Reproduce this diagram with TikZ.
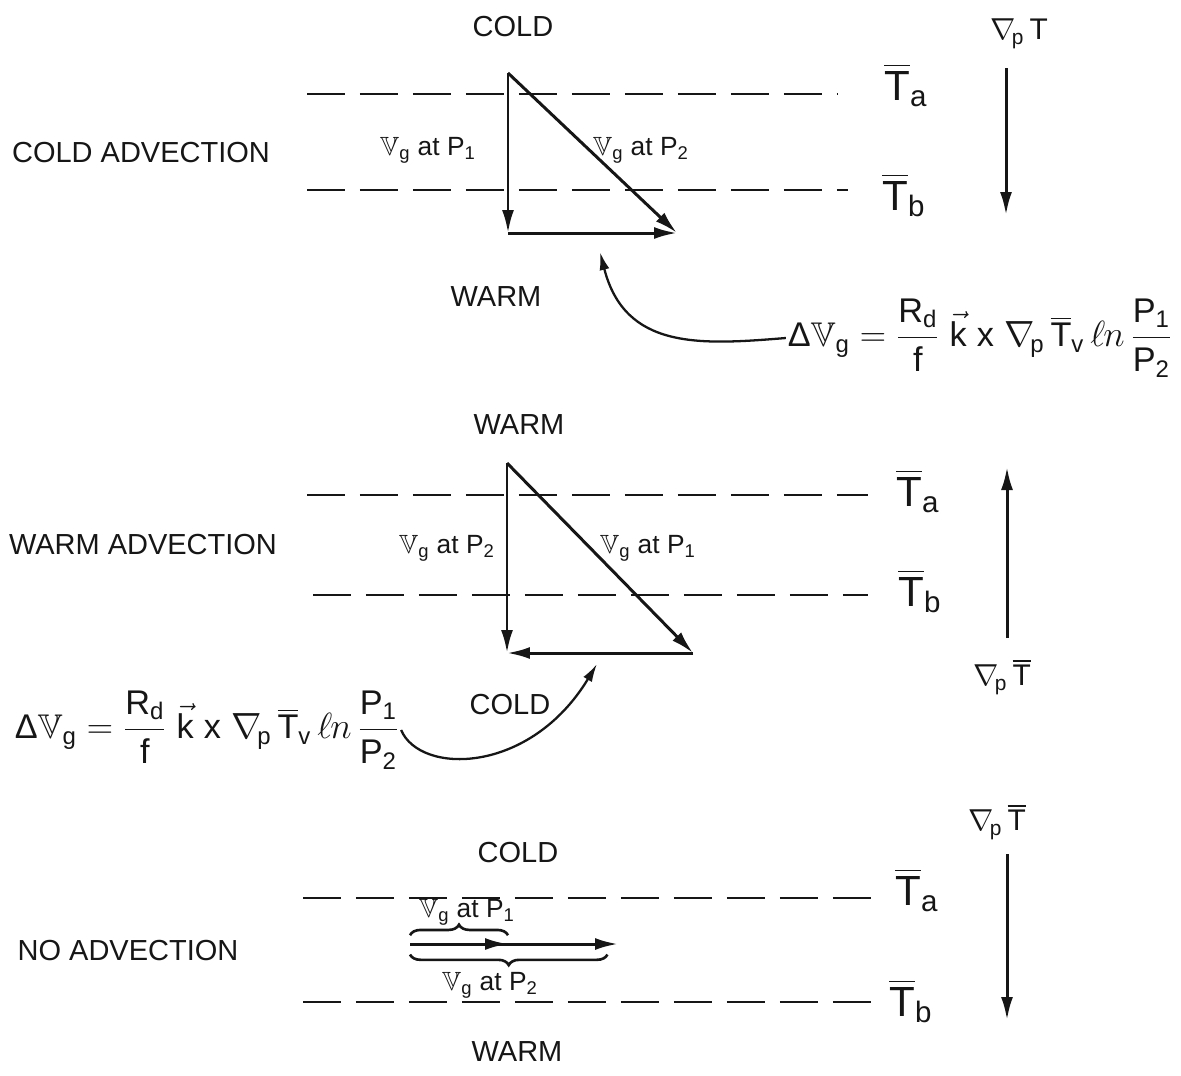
\documentclass[tikz,border=0pt]{standalone}
\usepackage{amsmath}
\usepackage{amssymb}
\usepackage[no-math]{fontspec}
\setmainfont{Liberation Sans}
\usepackage{xcolor}
\usepackage{tikz}
\usetikzlibrary{arrows.meta,positioning,decorations.pathreplacing}
\definecolor{dgink}{RGB}{22,22,22}
\newcommand{\Vg}{$\mathbb{V}_{\text{g}}$}
\newcommand{\Tbar}[1]{$\overline{\text{T}}_{\text{#1}}$}
\newcommand{\Pn}[1]{P$_{\text{#1}}$}
\newcommand{\thermwind}{$\text{Δ}\mathbb{V}_{\text{g}} = \dfrac{\text{R}_{\text{d}}}{\text{f}}\;\vec{\text{k}}\;\text{x}\;\nabla_{\!\text{p}}\,\overline{\text{T}}_{\text{v}}\,\ell\mkern-1mu n\,\dfrac{\text{P}_{\text{1}}}{\text{P}_{\text{2}}}$}
\tikzset{
  lbl/.style={font=\fontsize{16.5}{19}\selectfont, text=dgink, inner sep=1pt},
  vlbl/.style={font=\fontsize{15}{18}\selectfont, text=dgink, inner sep=1pt},
  tlbl/.style={font=\fontsize{24}{28}\selectfont, text=dgink, inner sep=1pt},
  glbl/.style={font=\fontsize{17}{20}\selectfont, text=dgink, inner sep=1pt},
  eqn/.style={font=\fontsize{19.5}{23}\selectfont, text=dgink, inner sep=1pt},
  windarr/.style={-{Latex[length=4.6mm,width=2.4mm]}, draw=dgink, line width=1.7pt},
  gradarr/.style={windarr},
  bendarr/.style={-{Latex[length=3.6mm,width=2mm]}, draw=dgink, line width=1.3pt},
  isoth/.style={draw=dgink, line width=1.2pt, dash pattern=on 0.76cm off 0.3cm},
  wbrace/.style={decorate, decoration={brace, amplitude=6pt}, draw=dgink, line width=1.5pt}
}
\begin{document}
\begin{tikzpicture}[x=0.02cm, y=-0.02cm]
  \useasboundingbox (0,0) rectangle (1181,1076);

  % cold advection
  \node[lbl] (cold1) at (513,27) {COLD};
  \node[lbl] (cadv) at (141,153) {COLD ADVECTION};
  \node[lbl] (warm1) at (496,297) {WARM};
  \coordinate (i1al) at (307,94);
  \coordinate (i1ar) at (838,94);
  \coordinate (i1bl) at (307,190);
  \coordinate (i1br) at (848,190);
  \draw[isoth] (i1al) -- (i1ar);
  \draw[isoth] (i1bl) -- (i1br);
  \node[tlbl] (ta1) at (906,85) {\Tbar{a}};
  \node[tlbl] (tb1) at (904,195) {\Tbar{b}};
  \coordinate (a1) at (508,73);
  \coordinate (b1) at (508,233);
  \coordinate (c1) at (677,233);
  \draw[windarr] (a1) -- (b1);
  \draw[windarr] (b1) -- (c1);
  \draw[windarr] (a1) -- (c1);
  \node[vlbl] (v1a) at (428,150) {\Vg{} at \Pn{1}};
  \node[vlbl] (v1b) at (641,150) {\Vg{} at \Pn{2}};
  \node[glbl] (g1) at (1019,34) {$\nabla_{\!\text{p}}\,$T};
  \coordinate (g1top) at (1006,68);
  \coordinate (g1bot) at (1006,215);
  \draw[gradarr] (g1top) -- (g1bot);
  \node[eqn] (eq1) at (980,338) {\thermwind};
  \coordinate (tip1) at (600,252);
  \draw[bendarr] (eq1.west) .. controls (700,345) and (625,350) .. (tip1);

  % warm advection
  \node[lbl] (warm2) at (519,425) {WARM};
  \node[lbl] (wadv) at (143,545) {WARM ADVECTION};
  \node[lbl] (cold2) at (510,705) {COLD};
  \coordinate (i2al) at (307,495);
  \coordinate (i2ar) at (868,495);
  \coordinate (i2bl) at (313,595);
  \coordinate (i2br) at (868,595);
  \draw[isoth] (i2al) -- (i2ar);
  \draw[isoth] (i2bl) -- (i2br);
  \node[tlbl] (ta2) at (918,491) {\Tbar{a}};
  \node[tlbl] (tb2) at (920,591) {\Tbar{b}};
  \coordinate (a2) at (507,463);
  \coordinate (b2) at (507,653);
  \coordinate (c2) at (693,653);
  \draw[windarr] (a2) -- (b2);
  \draw[windarr] (a2) -- (c2);
  \draw[windarr] (c2) -- (b2);
  \node[vlbl] (v2a) at (447,548) {\Vg{} at \Pn{2}};
  \node[vlbl] (v2b) at (648,548) {\Vg{} at \Pn{1}};
  \node[glbl] (g2) at (1002,677) {$\nabla_{\!\text{p}}\,\overline{\text{T}}$};
  \coordinate (g2bot) at (1007,638);
  \coordinate (g2top) at (1007,467);
  \draw[gradarr] (g2bot) -- (g2top);
  \node[eqn] (eq2) at (207,730) {\thermwind};
  \coordinate (tip2) at (597,664);
  \draw[bendarr] (eq2.east) .. controls (420,775) and (530,775) .. (tip2);

  % no advection
  \node[lbl] (cold3) at (518,853) {COLD};
  \node[lbl] (nadv) at (128,951) {NO ADVECTION};
  \node[lbl] (warm3) at (517,1052) {WARM};
  \coordinate (i3al) at (303,898);
  \coordinate (i3ar) at (881,898);
  \coordinate (i3bl) at (303,1002);
  \coordinate (i3br) at (874,1002);
  \draw[isoth] (i3al) -- (i3ar);
  \draw[isoth] (i3bl) -- (i3br);
  \node[tlbl] (ta3) at (917,890) {\Tbar{a}};
  \node[tlbl] (tb3) at (911,1001) {\Tbar{b}};
  \node[glbl] (g3) at (997,822) {$\nabla_{\!\text{p}}\,\overline{\text{T}}$};
  \coordinate (g3top) at (1007,854);
  \coordinate (g3bot) at (1007,1020);
  \draw[gradarr] (g3top) -- (g3bot);
  \coordinate (o3) at (410,944);
  \coordinate (p31) at (508,944);
  \coordinate (p32) at (618,944);
  \draw[windarr] (o3) -- (p32);
  \draw[windarr] (o3) -- (p31);
  \draw[wbrace] ([yshift=5pt]o3) -- ([yshift=5pt]p31);
  \draw[wbrace] ([xshift=-6pt,yshift=-6pt]p32) -- ([yshift=-6pt]o3);
  \node[vlbl] (v3a) at (467,912) {\Vg{} at \Pn{1}};
  \node[vlbl] (v3b) at (490,985) {\Vg{} at \Pn{2}};
\end{tikzpicture}
\end{document}
